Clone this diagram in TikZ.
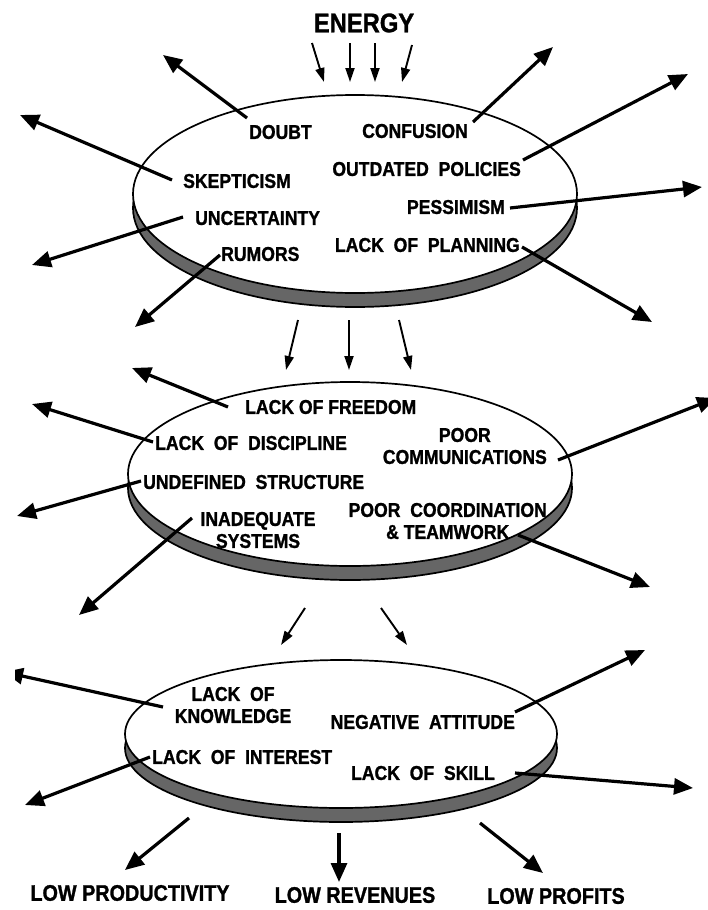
\documentclass[tikz,border=0pt]{standalone}
\usepackage{fontspec}
\setmainfont{Liberation Sans}[BoldFeatures={FakeStretch=0.88,FakeBold=1.2}]
\usetikzlibrary{arrows.meta}
\begin{document}
\begin{tikzpicture}[x=1pt,y=-1pt,
  lbl/.style={font=\bfseries\fontsize{20}{22}\selectfont, inner sep=0pt, align=center},
  lowlbl/.style={font=\bfseries\fontsize{22.5}{26}\selectfont, inner sep=0pt},
  toplbl/.style={font=\bfseries\fontsize{27}{30}\selectfont, inner sep=0pt},
  bigarrow/.style={line width=3.2pt, -{Triangle[length=19pt,width=16pt]}},
  flow/.style={line width=1.9pt, -{Triangle[length=14pt,width=9pt]}},
  disc/.style={draw=black, line width=1.7pt, fill=white},
  rim/.style={draw=black, line width=1.7pt, fill=black!60}]
\useasboundingbox (0,0) rectangle (708,910);

% ---- discs ----
\path[rim]  (355,208) ellipse [x radius=222, y radius=99];
\path[disc] (355,194) ellipse [x radius=222, y radius=99];
\path[rim]  (350,488) ellipse [x radius=222, y radius=92];
\path[disc] (350,474) ellipse [x radius=222, y radius=92];
\path[rim]  (341,748) ellipse [x radius=216, y radius=74];
\path[disc] (341,734) ellipse [x radius=216, y radius=74];

% ---- labels ----
\node[toplbl] (energy) at (364,23) {ENERGY};

\node[lbl, anchor=west] (doubt)    at (249,132) {DOUBT};
\node[lbl, anchor=east] (confus)   at (468,131) {CONFUSION};
\node[lbl, anchor=east] (outdated) at (521,169) {OUTDATED\ \ POLICIES};
\node[lbl, anchor=west] (skept)    at (183,181) {SKEPTICISM};
\node[lbl, anchor=east] (pess)     at (505,207) {PESSIMISM};
\node[lbl, anchor=west] (uncert)   at (195,218) {UNCERTAINTY};
\node[lbl, anchor=east] (planning) at (520,245) {LACK\ \ OF\ \ PLANNING};
\node[lbl, anchor=west] (rumors)   at (221,254) {RUMORS};

\node[lbl, anchor=west] (freedom)  at (245,407) {LACK OF FREEDOM};
\node[lbl, anchor=west] (discip)   at (155,443) {LACK\ \ OF\ \ DISCIPLINE};
\node[lbl, anchor=west] (undef)    at (143,482) {UNDEFINED\ \ STRUCTURE};
\node[lbl] (inadeq)  at (258,530) {INADEQUATE\\SYSTEMS};
\node[lbl, anchor=east] (comm)     at (547,446) {POOR\\COMMUNICATIONS};
\node[lbl, anchor=east] (coord)    at (547,521) {POOR\ \ COORDINATION\\\&\ TEAMWORK};

\node[lbl] (knowl) at (233,705) {LACK\ \ OF\\KNOWLEDGE};
\node[lbl, anchor=east] (negat)    at (515,722) {NEGATIVE\ \ ATTITUDE};
\node[lbl, anchor=west] (interest) at (152,757) {LACK\ \ OF\ \ INTEREST};
\node[lbl, anchor=east] (skill)    at (495,773) {LACK\ \ OF\ \ SKILL};

\node[lowlbl] (lowprod)   at (130,893) {LOW PRODUCTIVITY};
\node[lowlbl] (lowrev)    at (355,895) {LOW REVENUES};
\node[lowlbl] (lowprof)   at (556,896) {LOW PROFITS};

% ---- coordinates ----
\coordinate (e1a) at (312,43); \coordinate (e1b) at (324,82);
\coordinate (e2a) at (350,43); \coordinate (e2b) at (350,82);
\coordinate (e3a) at (375,43); \coordinate (e3b) at (375,82);
\coordinate (e4a) at (412,45); \coordinate (e4b) at (402,82);

\coordinate (m1a) at (298,320); \coordinate (m1b) at (286,370);
\coordinate (m2a) at (349,320); \coordinate (m2b) at (349,370);
\coordinate (m3a) at (399,320); \coordinate (m3b) at (411,370);

\coordinate (l1a) at (305,608); \coordinate (l1b) at (281,645);
\coordinate (l2a) at (381,608); \coordinate (l2b) at (407,645);

\coordinate (doubtS) at (247,118);    \coordinate (doubtT) at (163,55);
\coordinate (confS) at (473,122);     \coordinate (confT) at (553,47);
\coordinate (skeptS) at (172,180);    \coordinate (skeptT) at (20,115);
\coordinate (outS) at (523,160);      \coordinate (outT) at (688,74);
\coordinate (pessS) at (510,208);     \coordinate (pessT) at (702,187);
\coordinate (uncS) at (183,217);      \coordinate (uncT) at (32,265);
\coordinate (rumS) at (220,255);      \coordinate (rumT) at (135,327);
\coordinate (planS) at (522,247);     \coordinate (planT) at (652,322);

\coordinate (freeS) at (228,407);     \coordinate (freeT) at (132,368);
\coordinate (discS) at (153,442);     \coordinate (discT) at (32,404);
\coordinate (undS) at (141,481);      \coordinate (undT) at (17,516);
\coordinate (inaS) at (192,518);      \coordinate (inaT) at (79,615);
\coordinate (commS) at (558,460);     \coordinate (commT) at (716,398);
\coordinate (teamS) at (518,535);     \coordinate (teamT) at (650,587);

\coordinate (knowS) at (163,707);     \coordinate (knowT) at (4,672);
\coordinate (intS) at (150,757);      \coordinate (intT) at (25,805);
\coordinate (negS) at (515,712);      \coordinate (negT) at (645,650);
\coordinate (skillS) at (515,773);    \coordinate (skillT) at (693,788);
\coordinate (prodS) at (189,818);     \coordinate (prodT) at (125,870);
\coordinate (revS) at (339,833);      \coordinate (revT) at (339,882);
\coordinate (profS) at (480,823);     \coordinate (profT) at (543,873);

% ---- arrows ----
\begin{scope}
\clip (15,0) rectangle (708,910);
\foreach \a/\b in {e1a/e1b,e2a/e2b,e3a/e3b,e4a/e4b,m1a/m1b,m2a/m2b,m3a/m3b,l1a/l1b,l2a/l2b}
  \draw[flow] (\a) -- (\b);
\foreach \a/\b in {doubtS/doubtT,confS/confT,skeptS/skeptT,outS/outT,pessS/pessT,uncS/uncT,rumS/rumT,planS/planT,
  freeS/freeT,discS/discT,undS/undT,inaS/inaT,commS/commT,teamS/teamT,
  knowS/knowT,intS/intT,negS/negT,skillS/skillT,prodS/prodT,revS/revT,profS/profT}
  \draw[bigarrow] (\a) -- (\b);
\end{scope}
\end{tikzpicture}
\end{document}
